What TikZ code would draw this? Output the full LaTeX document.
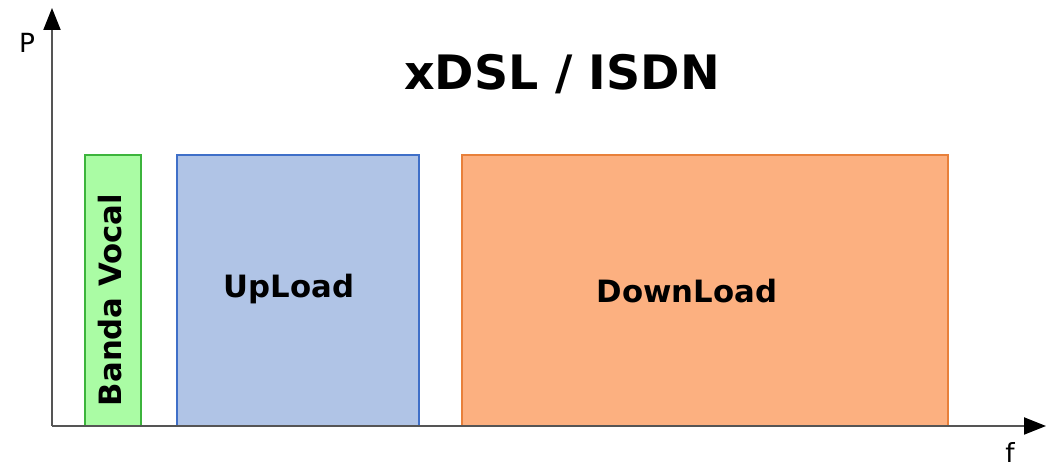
\documentclass[tikz,border=0pt]{standalone}
\usepackage{fontspec}
\setmainfont{DejaVu Sans}
\usepackage{xcolor}
\usetikzlibrary{arrows.meta,positioning}
\definecolor{vocfill}{HTML}{AAFCA4}
\definecolor{vocline}{HTML}{3CB43C}
\definecolor{upfill}{HTML}{B0C4E6}
\definecolor{upline}{HTML}{3F6FC8}
\definecolor{downfill}{HTML}{FCB080}
\definecolor{downline}{HTML}{E8803A}
\definecolor{axisgray}{HTML}{555555}

\begin{document}
\begin{tikzpicture}[
  x=0.02cm, y=0.02cm,
  band/.style={
    draw, line width=1.1pt, minimum height=5.42cm, inner sep=0pt,
  },
  bandtext/.style={font=\bfseries\fontsize{17.5}{20}\selectfont, inner sep=0pt},
  axis/.style={draw=axisgray, line width=1.2pt,
    -{Triangle[length=0.44cm, width=0.34cm, fill=black, color=black]}},
  axlabel/.style={font=\fontsize{15}{17}\selectfont},
]
\useasboundingbox (0,0) rectangle (1048,469);
\coordinate (origin) at (52,43);
\coordinate (ytip) at (52,461);
\coordinate (xtip) at (1046,43);
% frequency bands
\node[band, fill=vocfill, draw=vocline, minimum width=1.12cm] (voc) at (113,178.5) {};
\node[band, fill=upfill, draw=upline, minimum width=4.84cm] (up) at (298,178.5) {};
\node[band, fill=downfill, draw=downline, minimum width=9.72cm] (down) at (705,178.5) {};
\node[bandtext, rotate=90] (voctext) at (110,169) {Banda Vocal};
\node[bandtext, anchor=base] (uptext) at (289,171) {UpLoad};
\node[bandtext, anchor=base] (downtext) at (687,166) {DownLoad};
% axes
\draw[axis] (origin) -- (ytip);
\draw[axis] (origin) -- (xtip);
\node[axlabel] (plab) at (27,426) {P};
\node[axlabel] (flab) at (1010,17) {f};
\node[font=\bfseries\fontsize{27}{31}\selectfont, anchor=base] (title) at (562,379) {xDSL / ISDN};
\end{tikzpicture}
\end{document}
